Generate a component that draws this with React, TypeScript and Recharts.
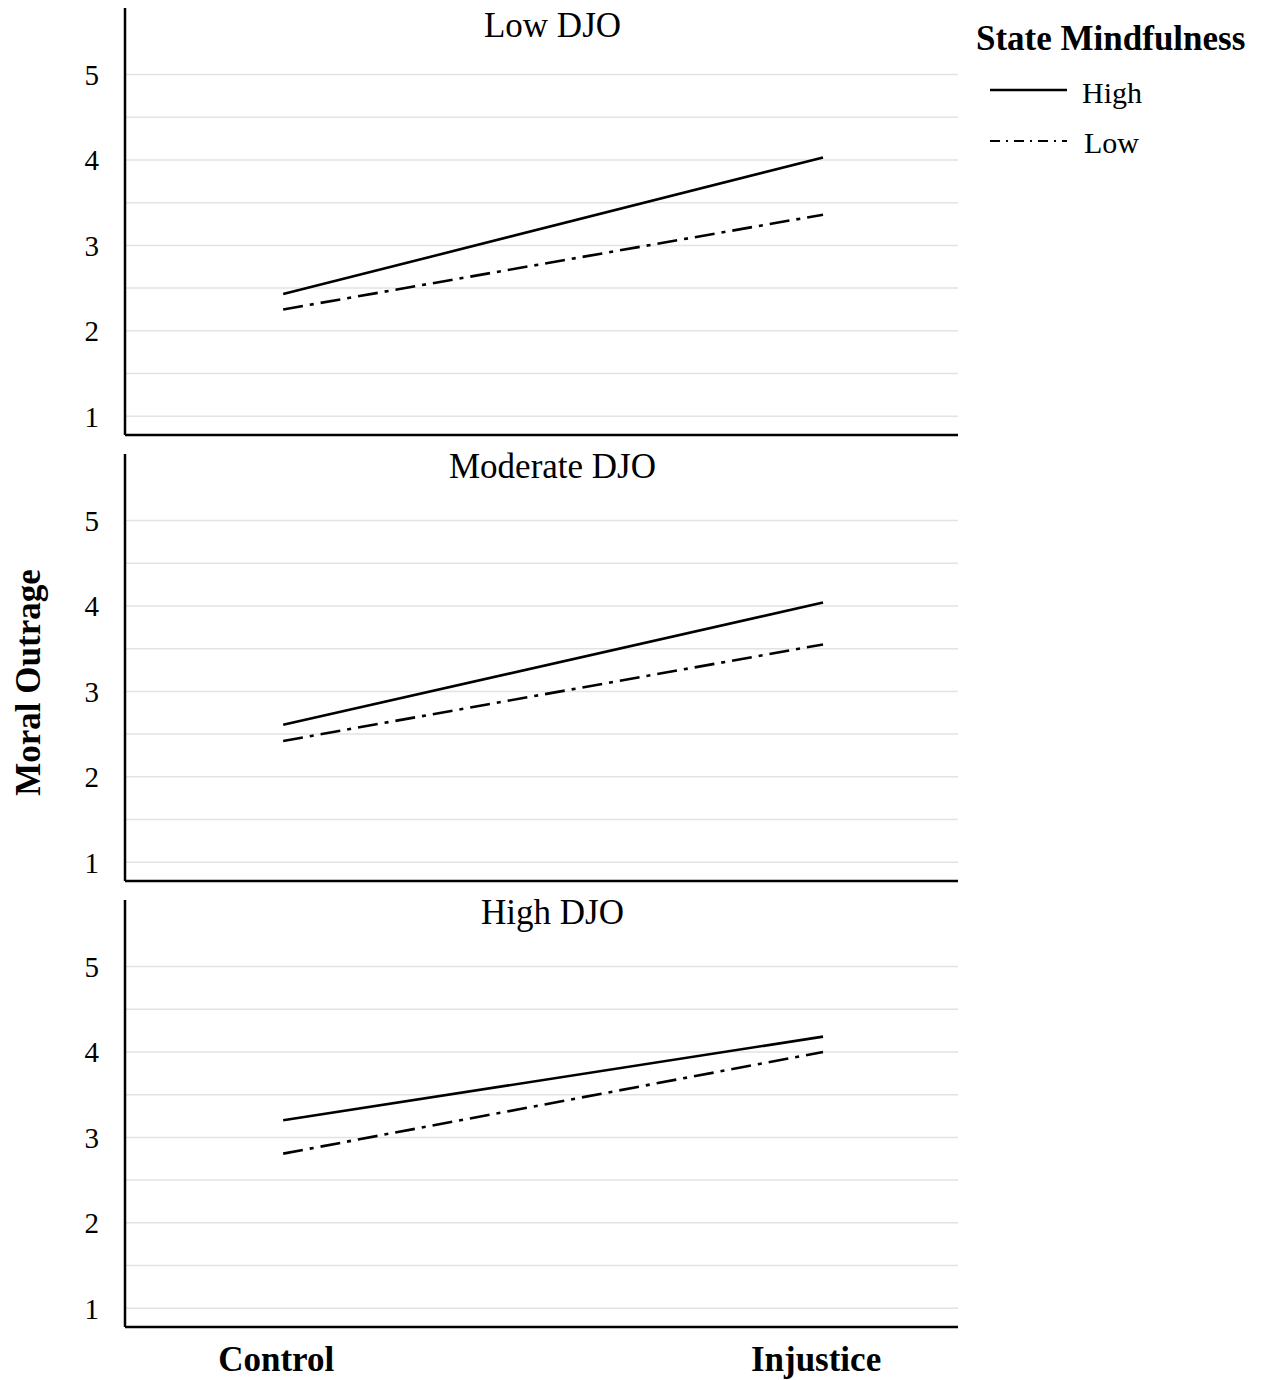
import React from 'react';
import { LineChart, Line, XAxis, YAxis, ReferenceLine, Label } from 'recharts';

const conditions = ['Control', 'Injustice'];
const panelTitles = ['Low DJO', 'Moderate DJO', 'High DJO'];
const highMindfulness = [
  [2.43, 4.03],
  [2.61, 4.04],
  [3.2, 4.18],
];
const lowMindfulness = [
  [2.25, 3.36],
  [2.42, 3.55],
  [2.81, 4.0],
];
const yTicks = [1, 1.5, 2, 2.5, 3, 3.5, 4, 4.5, 5];

const FONT = '"Liberation Serif", "Times New Roman", serif';
const DASH = '20 7 4 7';

const panelLayout = [
  { top: 0, height: 445, margin: { top: 8, right: 306, bottom: 6, left: 0 }, xHeight: 4 },
  { top: 445, height: 446, margin: { top: 9, right: 306, bottom: 6, left: 0 }, xHeight: 4 },
  { top: 891, height: 489, margin: { top: 9, right: 306, bottom: 8, left: 0 }, xHeight: 45 },
];

const buildRows = (i: number) =>
  conditions.map((c, k) => ({ x: k, name: c, high: highMindfulness[i][k], low: lowMindfulness[i][k] }));

const YTitle = (props: any) => {
  const vb = props.viewBox || { y: 0, height: 0 };
  const cy = vb.y + vb.height / 2 + 15;
  return (
    <text
      x={28}
      y={cy}
      transform={`rotate(-90, 28, ${cy})`}
      textAnchor="middle"
      dominantBaseline="central"
      fontFamily={FONT}
      fontWeight="bold"
      fontSize={35}
      fill="#000"
    >
      Moral Outrage
    </text>
  );
};

const Panel = ({ i }: { i: number }) => {
  const lay = panelLayout[i];
  const showX = i === 2;
  return (
    <div style={{ position: 'absolute', left: 0, top: lay.top, width: 1264, height: lay.height }}>
      <LineChart width={1264} height={lay.height} data={buildRows(i)} margin={lay.margin}>
        {yTicks.map((v) => (
          <ReferenceLine key={v} y={v} stroke="#e3e3e3" strokeWidth={1.5} />
        ))}
        <XAxis
          type="number"
          dataKey="x"
          domain={[-0.293, 1.25]}
          ticks={[0, 1]}
          allowDataOverflow
          height={lay.xHeight}
          tick={showX ? { fontFamily: FONT, fontWeight: 'bold', fontSize: 35, fill: '#000', dx: -7 } : false}
          tickFormatter={(v: number) => conditions[v]}
          tickLine={false}
          tickMargin={13}
          axisLine={{ stroke: '#000', strokeWidth: 2.5 }}
        />
        <YAxis
          type="number"
          domain={[0.78, 5.78]}
          ticks={yTicks}
          allowDataOverflow
          width={125}
          tick={{ fontFamily: FONT, fontSize: 29, fill: '#000' }}
          tickFormatter={(v: number) => (Number.isInteger(v) ? String(v) : '')}
          tickLine={false}
          tickMargin={20}
          axisLine={{ stroke: '#000', strokeWidth: 2.5 }}
        >
          {i === 1 && <Label content={<YTitle />} />}
        </YAxis>
        <Line
          type="linear"
          dataKey="high"
          stroke="#000"
          strokeWidth={2.6}
          dot={false}
          isAnimationActive={false}
        />
        <Line
          type="linear"
          dataKey="low"
          stroke="#000"
          strokeWidth={2.6}
          strokeDasharray={DASH}
          dot={false}
          isAnimationActive={false}
        />
      </LineChart>
      <div
        style={{
          position: 'absolute',
          left: 125,
          width: 855,
          top: i === 0 ? 6 : 2,
          textAlign: 'center',
          fontFamily: FONT,
          fontSize: 35,
          color: '#000',
          lineHeight: '40px',
        }}
      >
        {panelTitles[i]}
      </div>
    </div>
  );
};

const LegendBox = () => (
  <div style={{ position: 'absolute', left: 976, top: 17, fontFamily: FONT, color: '#000' }}>
    <div style={{ fontWeight: 'bold', fontSize: 35, lineHeight: '44px', whiteSpace: 'nowrap' }}>State Mindfulness</div>
    <svg width={285} height={110} style={{ display: 'block' }}>
      <line x1={14} x2={91} y1={29} y2={29} stroke="#000" strokeWidth={2.5} />
      <text x={106} y={31} fontFamily={FONT} fontSize={30} dominantBaseline="central">High</text>
      <line x1={14} x2={91} y1={80} y2={80} stroke="#000" strokeWidth={2} strokeDasharray="10 6 2 6" />
      <text x={108} y={81} fontFamily={FONT} fontSize={30} dominantBaseline="central">Low</text>
    </svg>
  </div>
);

export default function App() {
  return (
    <div style={{ position: 'absolute', left: 0, top: 0, width: 1264, height: 1380, background: '#fff' }}>
      {panelLayout.map((_, i) => (
        <Panel key={i} i={i} />
      ))}
      <LegendBox />
    </div>
  );
}
